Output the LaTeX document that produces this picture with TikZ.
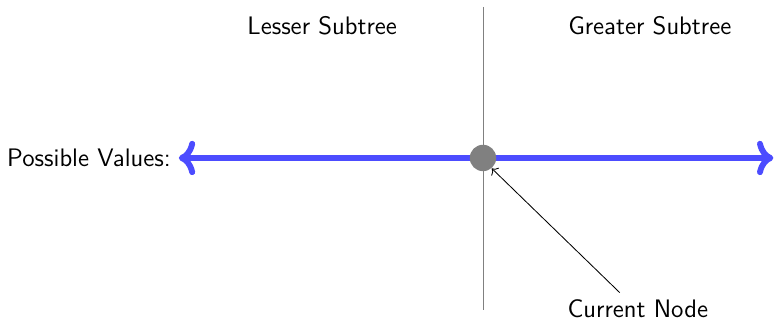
\documentclass[tikz,border=0pt]{standalone}
\usepackage{amsmath}
\usepackage{tikz}
\usetikzlibrary{arrows.meta}
\tikzset{
    valueline/.style={line width=2.8pt, color=blue!70, line cap=round, {To[round]}-{To[round]}},
    txt/.style={font=\sffamily\large},
}

\begin{document}
\begin{tikzpicture}[x=1cm,y=1cm]
            \useasboundingbox (-8.05,-2.7) rectangle (4.867,2.633);

            \coordinate (top) at (0,2.52);
            \coordinate (bot) at (0,-2.53);
            \draw[gray] (top)--(bot);

            \coordinate (lo) at (-5.07,0);
            \coordinate (hi) at (4.84,0);
            \draw[valueline] (lo)--(hi);

            \node[circle, fill=gray, inner sep=0pt, minimum size=0.44cm] (cn) at (0,0) {};

            \node[txt, anchor=east] (pv) at (-5.08,0) {Possible Values:};
            \node[txt] (less) at (-2.68,2.2) {Lesser Subtree};
            \node[txt] (great) at (2.78,2.2) {Greater Subtree};
            \node[txt] (cur) at (2.58,-2.52) {Current Node};

            \draw[->] ([xshift=-0.3cm]cur.north) -- (cn.-50);
        \end{tikzpicture}
\end{document}
